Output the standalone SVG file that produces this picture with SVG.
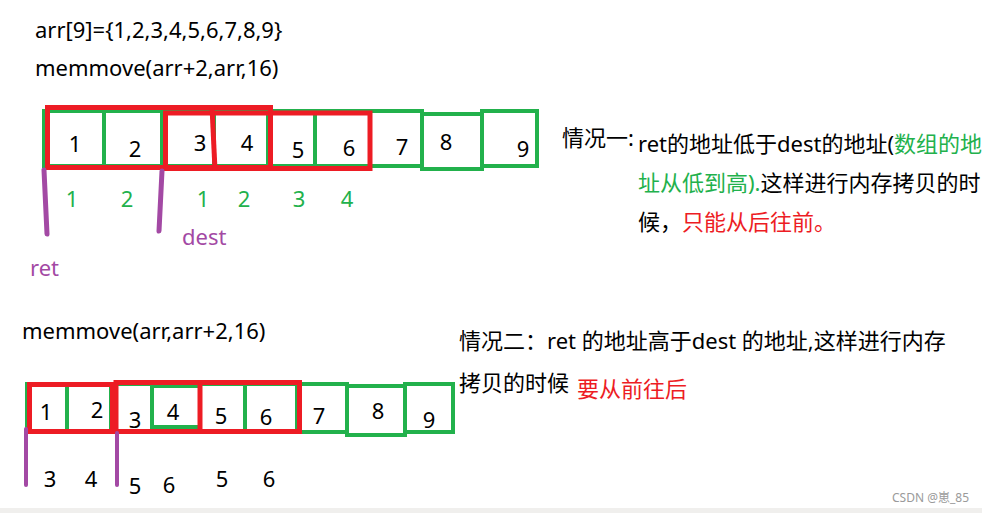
<svg xmlns="http://www.w3.org/2000/svg" width="982" height="513" viewBox="0 0 982 513">
<style>
.t{font-family:"Noto Sans","Noto Sans CJK SC",sans-serif;font-size:22px;fill:#000}
.cj{font-family:"Noto Sans","Noto Sans CJK SC",sans-serif;font-size:22px;fill:#000}
.d{font-family:"Noto Sans",sans-serif;font-size:22px;fill:#000;text-anchor:middle}
.gd{font-family:"Noto Sans",sans-serif;font-size:22px;fill:#22b14c;text-anchor:middle}
.gc{fill:none;stroke:#22b14c;stroke-width:4}
.rc{fill:none;stroke:#ed1c24;stroke-width:5}
.pl{stroke:#a349a4;stroke-width:5;stroke-linecap:round;fill:none}
.pt{font-family:"Noto Sans",sans-serif;font-size:22px;fill:#a349a4}
.g{fill:#22b14c}
.r{fill:#ed1c24}
</style>
<rect x="0" y="0" width="982" height="513" fill="#fff"/>
<rect x="0" y="508" width="982" height="5" fill="#f0efed"/>

<g id="header">
<text class="t" x="35" y="38">arr[9]={1,2,3,4,5,6,7,8,9}</text>
<text class="t" x="35" y="76">memmove(arr+2,arr,16)</text>
</g>

<g id="top-array">
<g id="top-cells" class="gc">
<rect x="44" y="111" width="60" height="55"/>
<rect x="104" y="111" width="58" height="55"/>
<rect x="166" y="111" width="48" height="55"/>
<rect x="214" y="111" width="54" height="55"/>
<rect x="268" y="111" width="47" height="55"/>
<rect x="315" y="111" width="55" height="55"/>
<rect x="370" y="111" width="52" height="55"/>
<rect x="422" y="114" width="60" height="55"/>
<rect x="482" y="111" width="55" height="55"/>
</g>
<g id="top-red" class="rc">
<rect x="47.5" y="107.5" width="223" height="60"/>
<rect x="165.5" y="113" width="204.5" height="55.5"/>
<line x1="212" y1="107" x2="215" y2="170"/>
</g>
<g id="top-values">
<text class="d" x="75" y="152">1</text>
<text class="d" x="135" y="157">2</text>
<text class="d" x="200" y="151">3</text>
<text class="d" x="247" y="151">4</text>
<text class="d" x="298" y="158">5</text>
<text class="d" x="349" y="156">6</text>
<text class="d" x="402" y="155">7</text>
<text class="d" x="446" y="150">8</text>
<text class="d" x="523" y="157">9</text>
</g>
<g id="top-copied">
<text class="gd" x="72" y="207">1</text>
<text class="gd" x="127" y="207">2</text>
<text class="gd" x="203" y="207">1</text>
<text class="gd" x="244" y="207">2</text>
<text class="gd" x="299" y="207">3</text>
<text class="gd" x="347" y="207">4</text>
</g>
</g>

<g id="bottom-header">
<text class="t" x="22" y="339">memmove(arr,arr+2,16)</text>
</g>

<g id="bottom-array">
<g id="bottom-cells" class="gc">
<rect x="27" y="384" width="40" height="48"/>
<rect x="67" y="384" width="44" height="48"/>
<rect x="113" y="384" width="39" height="48"/>
<rect x="152" y="386" width="48" height="41"/>
<rect x="200" y="384" width="45" height="48"/>
<rect x="245" y="384" width="52" height="48"/>
<rect x="297" y="384" width="50" height="48"/>
<rect x="347" y="386" width="58" height="49"/>
<rect x="405" y="384" width="48" height="48"/>
</g>
<g id="bottom-red" class="rc">
<rect x="29.5" y="384.5" width="83" height="47"/>
<rect x="116" y="382.5" width="183.5" height="49"/>
<line x1="200" y1="380" x2="200" y2="434"/>
</g>
<g id="bottom-values">
<text class="d" x="46" y="420">1</text>
<text class="d" x="97" y="418">2</text>
<text class="d" x="135" y="428">3</text>
<text class="d" x="173" y="420">4</text>
<text class="d" x="221" y="424">5</text>
<text class="d" x="266" y="425">6</text>
<text class="d" x="319" y="424">7</text>
<text class="d" x="378" y="419">8</text>
<text class="d" x="429" y="428">9</text>
</g>
<g id="bottom-copied">
<text class="d" x="50" y="487">3</text>
<text class="d" x="91" y="487">4</text>
<text class="d" x="135" y="494">5</text>
<text class="d" x="169" y="493">6</text>
<text class="d" x="222" y="487">5</text>
<text class="d" x="269" y="487">6</text>
</g>
</g>

<g id="connectors">
<line class="pl" x1="44" y1="170" x2="47" y2="234"/>
<line class="pl" x1="162" y1="171" x2="159" y2="231"/>
<line class="pl" x1="26" y1="429" x2="26" y2="485" style="stroke-width:4"/>
<line class="pl" x1="117" y1="433" x2="117" y2="485" style="stroke-width:4"/>
</g>

<g id="labels">
<text class="pt" x="182" y="245">dest</text>
<text class="pt" x="30" y="276">ret</text>
</g>

<g id="case1">
<text class="cj" x="562" y="146">情况一</text>
<text class="cj" x="628" y="146">:</text>
<text class="cj" x="638" y="152">ret的地址低于dest的地址(<tspan class="g">数组的地</tspan></text>
<text class="cj" x="638" y="191"><tspan class="g">址从低到高).</tspan>这样进行内存拷贝的时</text>
<text class="cj" x="638" y="230">候，<tspan class="r">只能从后往前。</tspan></text>
</g>

<g id="case2">
<text class="cj" x="459" y="349">情况二：ret 的地址高于dest 的地址,这样进行内存</text>
<text class="cj" x="459" y="391">拷贝的时候</text>
<text class="cj r" x="577" y="397">要从前往后</text>
</g>

<text x="892" y="502" font-family="Noto Sans,Noto Sans CJK SC,sans-serif" font-size="12" fill="#9a9a9a">CSDN @崽_85</text>
</svg>
